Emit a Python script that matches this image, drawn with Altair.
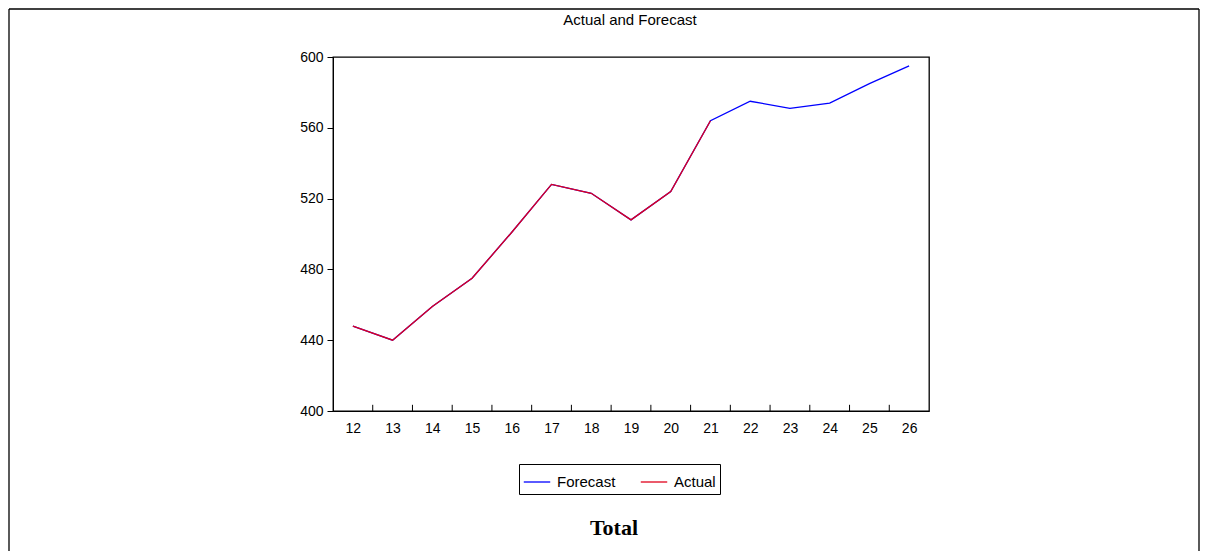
import pandas as pd
import altair as alt

periods = list(range(12, 27))
forecast = [448, 440, 459, 475, 501, 528, 523, 508, 524, 564, 575, 571, 574, 585, 595]
actual_periods = list(range(12, 22))
actual = [448, 440, 459, 475, 501, 528, 523, 508, 524, 564]

df_f = pd.DataFrame({"period": periods, "value": forecast, "series": "Forecast"})
df_a = pd.DataFrame({"period": actual_periods, "value": actual, "series": "Actual"})
ticks = pd.DataFrame({"b": [p + 0.5 for p in periods[:-1]]})
one = pd.DataFrame({"a": [0]})

font = "Liberation Sans"
W, H = 596, 354

x = alt.X("period:Q", scale=alt.Scale(domain=[11.5, 26.5], nice=False, zero=False),
          axis=alt.Axis(values=periods, ticks=False, grid=False, title=None, labelFontSize=14,
                        labelFont=font, labelColor="black", labelPadding=10, domainColor="black"))
y = alt.Y("value:Q", scale=alt.Scale(domain=[400, 600], nice=False, zero=False),
          axis=alt.Axis(values=[400, 440, 480, 520, 560, 600], grid=False, title=None, labelFontSize=14,
                        labelFont=font, labelColor="black", tickColor="black", tickSize=6,
                        domainColor="black", labelPadding=4))
color = alt.Color("series:N",
                  scale=alt.Scale(domain=["Forecast", "Actual"], range=["#0000ff", "#e0001b"]),
                  legend=alt.Legend(title=None, orient="none", legendX=186, legendY=407,
                                    direction="horizontal", symbolType="stroke", symbolSize=700,
                                    symbolStrokeWidth=1.3, labelFontSize=15, labelFont=font,
                                    labelColor="black", strokeColor="black", padding=4,
                                    labelOffset=6, columnPadding=22))

line_f = alt.Chart(df_f).mark_line(strokeWidth=1.3).encode(x=x, y=y, color=color)
line_a = alt.Chart(df_a).mark_line(strokeWidth=1.3).encode(x=x, y=y, color=color)

xticks = alt.Chart(ticks).mark_rule(color="black").encode(
    x="b:Q", y=alt.datum(400), y2=alt.datum(403.5))

L, R, T, B = -324, W + 270, -48, 510
frame = (
    alt.Chart(one).mark_rule(color="black", strokeWidth=1.3, clip=False).encode(
        x=alt.value(L), x2=alt.value(R), y=alt.value(T))
    + alt.Chart(one).mark_rule(color="black", strokeWidth=1.3, clip=False).encode(
        x=alt.value(L), y=alt.value(T), y2=alt.value(B))
    + alt.Chart(one).mark_rule(color="black", strokeWidth=1.3, clip=False).encode(
        x=alt.value(R), y=alt.value(T), y2=alt.value(B))
)

title = alt.Chart(one).mark_text(text="Actual and Forecast", font=font, fontSize=15,
                                 clip=False).encode(x=alt.value(297), y=alt.value(-37))
total = alt.Chart(one).mark_text(text="Total", font="Liberation Serif", fontSize=22,
                                 fontWeight="bold", clip=False).encode(
    x=alt.value(281), y=alt.value(471))

chart = alt.layer(line_f, line_a, xticks, frame, title, total).properties(
    width=W, height=H,
    autosize=alt.AutoSizeParams(type="none"),
    padding={"left": 325, "top": 49, "right": 275, "bottom": 140},
).configure_view(stroke="black", strokeWidth=1.3)

chart.save("out.html", embed_options={"renderer": "svg", "actions": False})
